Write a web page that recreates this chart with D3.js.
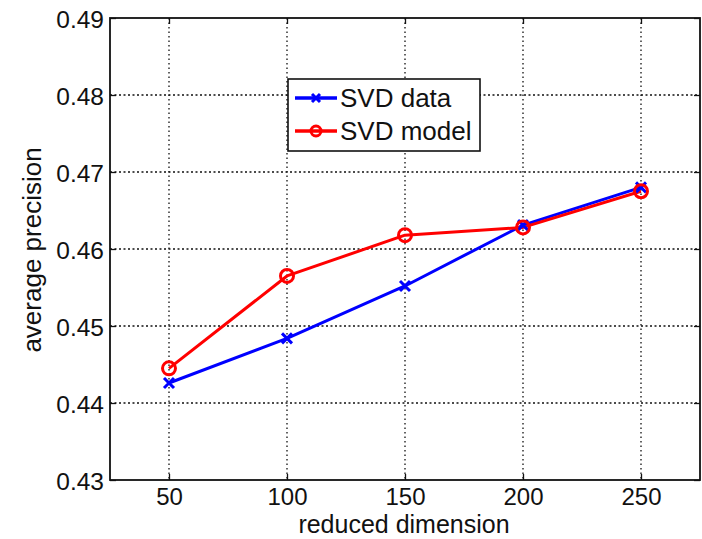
<!DOCTYPE html>
<html><head><meta charset="utf-8">
<script src="https://cdn.jsdelivr.net/npm/d3@7"></script>
<style>body{margin:0;background:#fff}svg{display:block}text{font-family:"Liberation Sans",Arial,sans-serif;fill:#111}</style>
</head><body><svg id="c" width="702" height="539"></svg>
<script>
const dims = [50, 100, 150, 200, 250];
const svdData = [0.4426, 0.4484, 0.4552, 0.4631, 0.4680];
const svdModel = [0.4445, 0.4565, 0.4618, 0.4628, 0.4675];
const xTicks = [50, 100, 150, 200, 250];
const yTicks = [0.43, 0.44, 0.45, 0.46, 0.47, 0.48, 0.49];
const seriesNames = ["SVD data", "SVD model"];
const seriesColors = ["#0000ff", "#ff0000"];

const svg = d3.select("#c");
const L = 110, R = 700, T = 18, B = 480;
const x = d3.scaleLinear().domain([25, 275]).range([L, R]);
const y = d3.scaleLinear().domain([0.43, 0.49]).range([B, T]);

// grid
const g = svg.append("g");
g.selectAll(".vg").data(xTicks).enter().append("line")
  .attr("x1", d => x(d)).attr("x2", d => x(d)).attr("y1", T).attr("y2", B)
  .attr("stroke", "#111").attr("stroke-width", 1.3).attr("stroke-dasharray", "1.5,3");
g.selectAll(".hg").data(yTicks.slice(1, -1)).enter().append("line")
  .attr("y1", d => y(d)).attr("y2", d => y(d)).attr("x1", L).attr("x2", R)
  .attr("stroke", "#111").attr("stroke-width", 1.3).attr("stroke-dasharray", "2,2.5");

// axes (ticks inside)
const xa = svg.append("g").attr("transform", `translate(0,${B})`)
  .call(d3.axisBottom(x).tickValues(xTicks).tickSizeInner(-6).tickSizeOuter(0).tickPadding(8).tickFormat(d3.format("d")));
const ya = svg.append("g").attr("transform", `translate(${L},0)`)
  .call(d3.axisLeft(y).tickValues(yTicks).tickSizeInner(-6).tickSizeOuter(0).tickPadding(6).tickFormat(d3.format(".2f")));
const xt = svg.append("g").attr("transform", `translate(0,${T})`)
  .call(d3.axisTop(x).tickValues(xTicks).tickSizeInner(-6).tickSizeOuter(0).tickFormat(""));
const yr = svg.append("g").attr("transform", `translate(${R},0)`)
  .call(d3.axisRight(y).tickValues(yTicks).tickSizeInner(-6).tickSizeOuter(0).tickFormat(""));
[xa, ya, xt, yr].forEach(a => { a.select(".domain").remove(); a.selectAll("line").attr("stroke", "#111").attr("stroke-width", 1.3); });
xa.selectAll("text").attr("font-size", 24).style("font-family", "Liberation Sans, Arial, sans-serif").attr("fill", "#111");
ya.selectAll("text").attr("font-size", 24.5).style("font-family", "Liberation Sans, Arial, sans-serif").attr("fill", "#111").attr("dy", "0.4em");

svg.append("rect").attr("x", L).attr("y", T).attr("width", R - L).attr("height", B - T)
  .attr("fill", "none").attr("stroke", "#111").attr("stroke-width", 1.8);

// series
const line = d3.line().x((d, i) => x(dims[i])).y(d => y(d));
[svdData, svdModel].forEach((vals, si) => {
  svg.append("path").datum(vals).attr("d", line).attr("fill", "none")
    .attr("stroke", seriesColors[si]).attr("stroke-width", 3).attr("stroke-linejoin", "round");
});
// markers
svg.selectAll(".xm").data(svdData).enter().append("path")
  .attr("transform", (d, i) => `translate(${x(dims[i])},${y(d)})`)
  .attr("d", "M-5,-5L5,5M-5,5L5,-5").attr("stroke", seriesColors[0]).attr("stroke-width", 3);
svg.selectAll(".om").data(svdModel).enter().append("circle")
  .attr("cx", (d, i) => x(dims[i])).attr("cy", d => y(d)).attr("r", 6.5)
  .attr("fill", "none").attr("stroke", seriesColors[1]).attr("stroke-width", 3);

// axis labels
svg.append("text").attr("x", 404).attr("y", 533).attr("text-anchor", "middle")
  .attr("font-size", 25).text("reduced dimension");
svg.append("text").attr("transform", "translate(41,250) rotate(-90)").attr("text-anchor", "middle")
  .attr("font-size", 26).text("average precision");

// legend
const lg = svg.append("g");
lg.append("rect").attr("x", 288).attr("y", 79).attr("width", 192).attr("height", 72)
  .attr("fill", "#fff").attr("stroke", "#111").attr("stroke-width", 1.6);
const ly = [98, 131];
seriesNames.forEach((n, i) => {
  lg.append("line").attr("x1", 295).attr("x2", 337).attr("y1", ly[i]).attr("y2", ly[i])
    .attr("stroke", seriesColors[i]).attr("stroke-width", 3.5);
  if (i === 0) lg.append("path").attr("transform", `translate(316,${ly[i]})`)
    .attr("d", "M-4,-4L4,4M-4,4L4,-4").attr("stroke", seriesColors[i]).attr("stroke-width", 3);
  else lg.append("circle").attr("cx", 316).attr("cy", ly[i]).attr("r", 5)
    .attr("fill", "none").attr("stroke", seriesColors[i]).attr("stroke-width", 3);
  lg.append("text").attr("x", 340).attr("y", ly[i] + 9).attr("font-size", 26).text(n);
});
</script></body></html>
